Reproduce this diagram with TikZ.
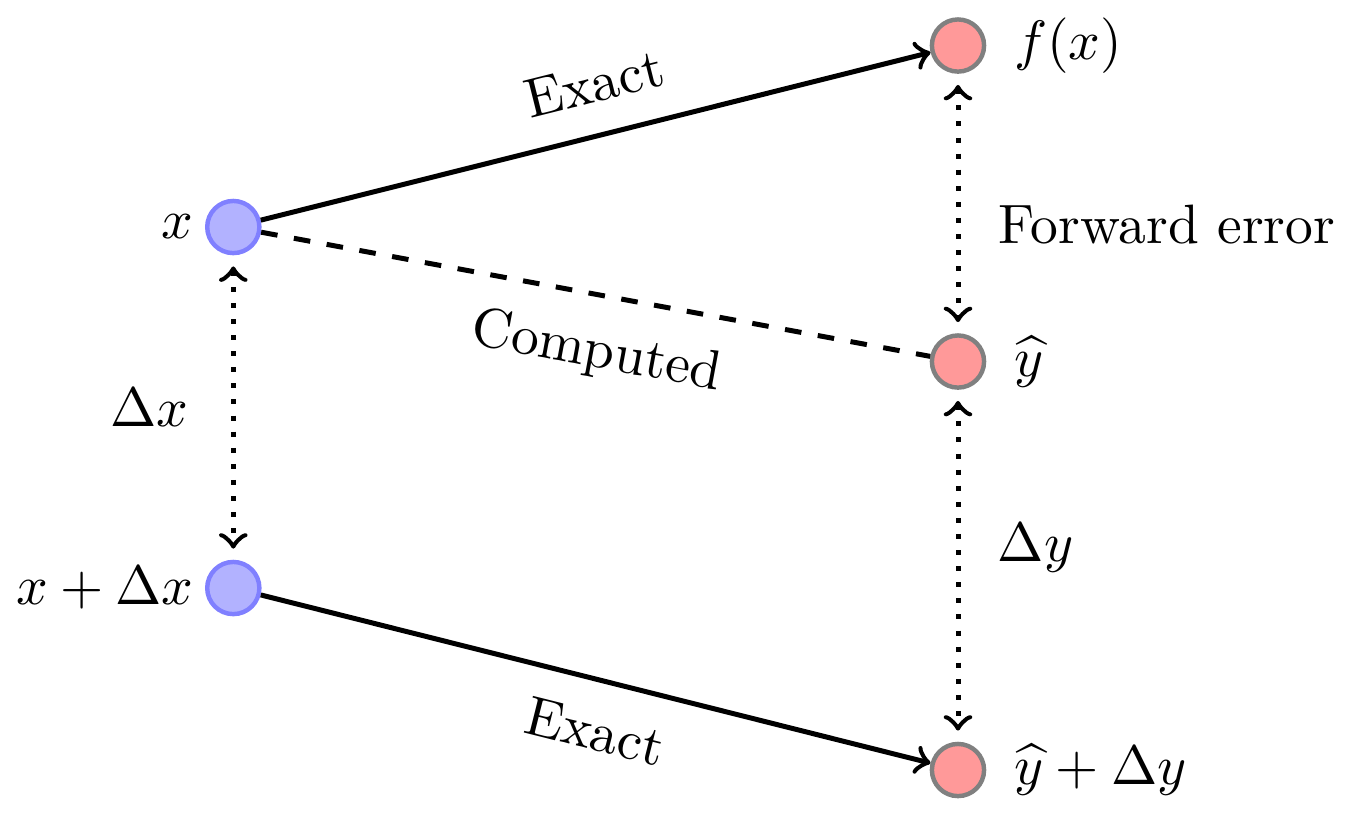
\documentclass[tikz,border=0pt]{standalone}
\begin{document}
\tikzset{
  bnode/.style={circle, draw=blue!50, fill=blue!30, thick, minimum size=9.4pt, inner sep=0pt},
  rnode/.style={circle, draw=gray, fill=red!40, thick, minimum size=9.4pt, inner sep=0pt},
  conn/.style={line width=0.9pt},
  err/.style={line width=0.9pt, dotted, <->, shorten >=2pt, shorten <=2pt},
  lleft/.style={label={[label distance=-1.5pt]left:#1}},
  lright/.style={label={[label distance=1.5pt]right:#1}}
}
\begin{tikzpicture}[x=0.18018pt, y=-0.18018pt]
\useasboundingbox (0,0) rectangle (1352,814);
\node[bnode, lleft={$x$}] (x) at (233.3,227) {};
\node[bnode, lleft={$x+\Delta x$}] (xd) at (233.3,588) {};
\node[rnode, lright={$f(x)$}] (fx) at (958,45.5) {};
\node[rnode, lright={$\widehat{y}$}] (yh) at (958,361.5) {};
\node[rnode, lright={$\widehat{y}+\Delta y$}] (yd) at (958,770) {};
\draw[conn,->] (x) -- (fx) node[pos=0.517, sloped, above=2pt] {Exact};
\draw[conn,dashed] (x) -- (yh) node[pos=0.517, sloped, below=2.1pt] {Computed};
\draw[conn,->] (xd) -- (yd) node[pos=0.518, sloped, below=1.9pt] {Exact};
\draw[err] (fx) -- (yh) node[pos=0.58, right=3.6pt] {Forward error};
\draw[err] (yh) -- (yd) node[pos=0.45, right=3.4pt] {$\Delta y$};
\draw[err] (x) -- (xd) node[midway, left=4.3pt] {$\Delta x$};
\end{tikzpicture}
\end{document}
